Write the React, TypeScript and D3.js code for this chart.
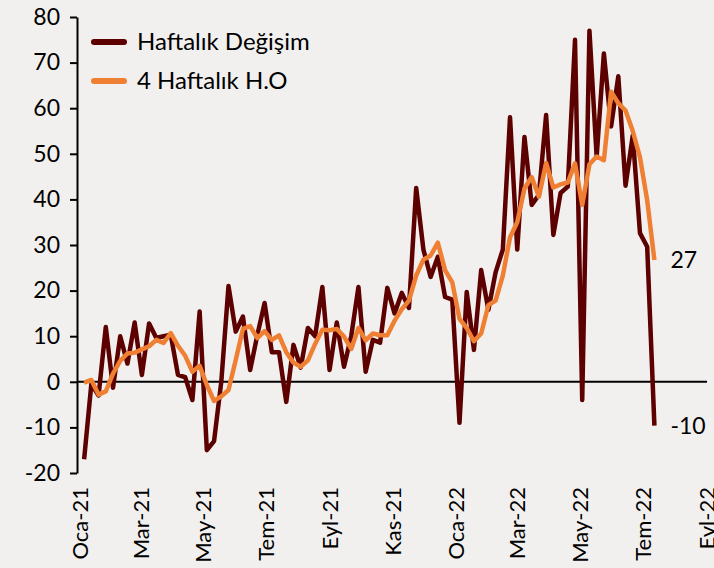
import React, { useRef, useEffect } from 'react';
import * as d3 from 'd3';

// weekly data, first week of Jan 2021 -> mid Jul 2022
const firstWeek = new Date(2021, 0, 5);

const weeklyChange = [
  -17, -0.5, -3, 12, -1.3, 10, 4, 13, 1.5, 12.8,
  9.6, 10, 10.3, 1.5, 1, -4, 15.4, -15, -13, 0,
  21, 11, 14.3, 2.6, 10.3, 17.3, 6.5, 6.5, -4.4, 8.1,
  3.1, 11.8, 10, 20.8, 2.6, 13, 3.3, 10, 20.8, 2.2,
  9.2, 8.6, 20.6, 15, 19.5, 16.2, 42.5, 29, 23, 27.4,
  18.6, 18, -9, 19.7, 7, 24.5, 15.8, 24, 29, 58,
  29, 53.7, 38.8, 41, 58.5, 32.2, 41.4, 42.8, 75, -4,
  77, 49.4, 72, 56, 67, 43, 54, 32.6, 29.6, -9.6,
];

const fourWeekAvg = [
  -0.2, 0.4, -2.8, -2.1, 1.8, 4.6, 6.2, 6.4, 7.1, 7.8,
  9.2, 8.5, 10.7, 7.9, 5.7, 2.2, 3.5, -0.7, -4.2, -3.2,
  -1.8, 4.8, 11.6, 12.2, 9.6, 11.1, 9.2, 10.2, 6.5, 4.2,
  3.3, 4.7, 8.3, 11.4, 11.3, 11.6, 9.9, 7.2, 11.8, 9.1,
  10.6, 10.2, 10.2, 13.4, 15.9, 17.8, 23.3, 26.8, 27.7, 30.5,
  24.5, 21.8, 13.8, 11.8, 8.9, 10.6, 16.8, 17.8, 23.3, 31.7,
  35, 42.4, 44.9, 40.6, 48, 42.6, 43.3, 43.7, 47.9, 38.8,
  47.7, 49.4, 48.6, 63.6, 61.1, 59.5, 55, 49.2, 39.8, 26.7,
];

const monthNames = ['Oca', 'Şub', 'Mar', 'Nis', 'May', 'Haz', 'Tem', 'Ağu', 'Eyl', 'Eki', 'Kas', 'Ara'];
const yTicks = [-20, -10, 0, 10, 20, 30, 40, 50, 60, 70, 80];
const seriesNames = ['Haftalık Değişim', '4 Haftalık H.O'];

const DARK = '#5c0000';
const ORANGE = '#ef7f32';
const FONT = 'Lato, "Open Sans", sans-serif';

const App = () => {
  const svgRef = useRef<SVGSVGElement>(null);

  useEffect(() => {
    const width = 714;
    const height = 568;
    const svg = d3.select(svgRef.current);
    svg.selectAll('*').remove();

    svg.append('rect').attr('width', width).attr('height', height).attr('fill', '#f2f0ef');

    const axisX = 77;
    const rightX = 707;

    const x = d3.scaleTime()
      .domain([new Date(2021, 0, 1), new Date(2022, 8, 1)])
      .range([80, 707]);

    const y = d3.scaleLinear().domain([-20, 80]).range([473, 17]);

    const dates = weeklyChange.map((_, i) => d3.timeDay.offset(firstWeek, 7 * i));

    // y axis (plain hyphen for negatives, like the source)
    const gy = svg.append('g')
      .attr('transform', `translate(${axisX},0)`)
      .call(d3.axisLeft(y).tickValues(yTicks).tickFormat(d => String(d)).tickSize(7).tickSizeOuter(0).tickPadding(10));
    gy.select('.domain').attr('stroke', '#000').attr('stroke-width', 2);
    gy.selectAll('.tick line').attr('stroke', '#000').attr('stroke-width', 2);
    gy.selectAll('.tick text')
      .attr('fill', '#000')
      .style('font-family', FONT)
      .style('font-size', '23px');

    // zero line
    svg.append('line')
      .attr('x1', axisX).attr('x2', rightX)
      .attr('y1', y(0)).attr('y2', y(0))
      .attr('stroke', '#000').attr('stroke-width', 2);

    // x labels, rotated
    const monthTicks = x.ticks(d3.timeMonth.every(2));
    svg.append('g')
      .selectAll('text')
      .data(monthTicks)
      .enter()
      .append('text')
        .attr('transform', d => `translate(${x(d)},487) rotate(-90)`)
        .attr('text-anchor', 'end')
        .attr('dy', '0.35em')
        .style('font-family', FONT)
        .style('font-size', '22px')
        .attr('fill', '#000')
        .text(d => `${monthNames[d.getMonth()]}-${String(d.getFullYear()).slice(2)}`);

    const line = d3.line<number>()
      .x((_, i) => x(dates[i]))
      .y(d => y(d));

    svg.append('path')
      .datum(weeklyChange)
      .attr('d', line)
      .attr('fill', 'none')
      .attr('stroke', DARK)
      .attr('stroke-width', 4.5)
      .attr('stroke-linejoin', 'round');

    svg.append('path')
      .datum(fourWeekAvg)
      .attr('d', line)
      .attr('fill', 'none')
      .attr('stroke', ORANGE)
      .attr('stroke-width', 4.5)
      .attr('stroke-linejoin', 'round');

    // end labels
    const last = weeklyChange.length - 1;
    const endLabels = [
      { v: fourWeekAvg[last] },
      { v: weeklyChange[last] },
    ];
    svg.append('g')
      .selectAll('text')
      .data(endLabels)
      .enter()
      .append('text')
        .attr('x', x(dates[last]) + 16)
        .attr('y', d => y(d.v))
        .attr('dy', '0.35em')
        .style('font-family', FONT)
        .style('font-size', '23px')
        .attr('fill', '#000')
        .text(d => String(Math.round(d.v)));

    // legend
    const legend = svg.append('g');
    [DARK, ORANGE].forEach((c, i) => {
      const ly = 42 + i * 39;
      legend.append('line')
        .attr('x1', 94).attr('x2', 124)
        .attr('y1', ly).attr('y2', ly)
        .attr('stroke', c).attr('stroke-width', 6)
        .attr('stroke-linecap', 'round');
      legend.append('text')
        .attr('x', 137).attr('y', ly)
        .attr('dy', '0.35em')
        .style('font-family', FONT)
        .style('font-size', '24px')
        .attr('fill', '#000')
        .text(seriesNames[i]);
    });
  }, []);

  return (
    <svg
      ref={svgRef}
      width={714}
      height={568}
      style={{ position: 'absolute', left: 0, top: 0, display: 'block' }}
    />
  );
};

export default App;
